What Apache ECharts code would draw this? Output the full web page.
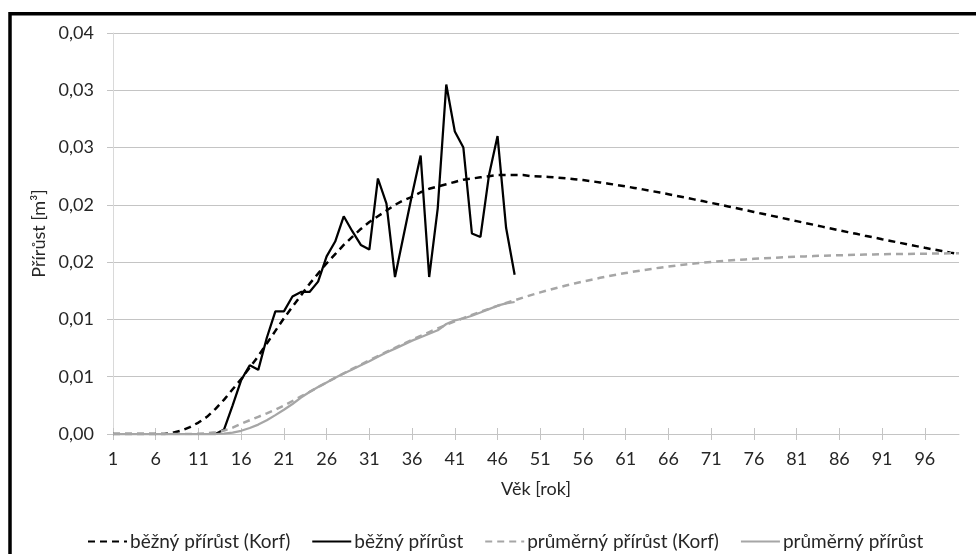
<!DOCTYPE html>
<html>
<head>
<meta charset="utf-8">
<script src="https://cdn.jsdelivr.net/npm/echarts@6/dist/echarts.min.js"></script>
<style>
  html, body { margin: 0; padding: 0; background: #fff; }
  #chart { width: 976px; height: 554px; }
</style>
</head>
<body>
<div id="chart"></div>
<script>
// Stand age in years (category axis)
const ages = [
  1, 2, 3, 4, 5, 6, 7, 8, 9, 10, 11, 12, 13, 14, 15, 16, 17, 18, 19, 20,
  21, 22, 23, 24, 25, 26, 27, 28, 29, 30, 31, 32, 33, 34, 35, 36, 37, 38, 39, 40,
  41, 42, 43, 44, 45, 46, 47, 48, 49, 50, 51, 52, 53, 54, 55, 56, 57, 58, 59, 60,
  61, 62, 63, 64, 65, 66, 67, 68, 69, 70, 71, 72, 73, 74, 75, 76, 77, 78, 79, 80,
  81, 82, 83, 84, 85, 86, 87, 88, 89, 90, 91, 92, 93, 94, 95, 96, 97, 98, 99, 100
];

// Current annual increment, Korf growth model [m3]
const korfCurrent = [
  0, 0, 0, 0, 0, 0, 0, 0.0001, 0.0003, 0.0006,
  0.0010, 0.0015, 0.0022, 0.0030, 0.0039, 0.0048, 0.0058, 0.0068, 0.0079, 0.0090,
  0.0101, 0.0111, 0.0121, 0.0131, 0.0140, 0.0149, 0.0157, 0.0165, 0.0172, 0.0179,
  0.0185, 0.0190, 0.0195, 0.0200, 0.0204, 0.0207, 0.0211, 0.0214, 0.0216, 0.0218,
  0.0220, 0.0222, 0.0223, 0.0224, 0.0225, 0.0226, 0.0226, 0.0226, 0.0226, 0.0225,
  0.02248, 0.02244, 0.02238, 0.02232, 0.02224, 0.02216, 0.02206, 0.02196, 0.02185, 0.02173,
  0.02161, 0.02148, 0.02135, 0.02121, 0.02107, 0.02093, 0.02078, 0.02063, 0.02048, 0.02033,
  0.02017, 0.02002, 0.01986, 0.01970, 0.01954, 0.01938, 0.01922, 0.01906, 0.01890, 0.01874,
  0.01858, 0.01842, 0.01826, 0.01810, 0.01794, 0.01778, 0.01762, 0.01747, 0.01731, 0.01716,
  0.01700, 0.01685, 0.01670, 0.01655, 0.01640, 0.01625, 0.01611, 0.01597, 0.01583, 0.01570
];

// Measured current annual increment [m3], ages 1-48
const current = [
  0, 0, 0, 0, 0, 0, 0, 0, 0, 0,
  0, 0, 0, 0.0004, 0.0025, 0.0047, 0.0060, 0.0056, 0.0084, 0.0107,
  0.0107, 0.0120, 0.0124, 0.0124, 0.0133, 0.0155, 0.0168, 0.0190, 0.0177, 0.0165,
  0.0161, 0.0223, 0.0201, 0.0137, 0.0173, 0.0209, 0.0243, 0.0137, 0.0197, 0.0305,
  0.0264, 0.0250, 0.0175, 0.0172, 0.0226, 0.0260, 0.0180, 0.0139
];

// Mean annual increment, Korf growth model [m3]
const korfMean = [
  0, 0, 0, 0, 0, 0, 0, 0, 0, 0,
  0.00002, 0.00006, 0.00015, 0.00030, 0.00055, 0.00090, 0.00120, 0.00150, 0.00180, 0.00212,
  0.00248, 0.00288, 0.00328, 0.00368, 0.00410, 0.00450, 0.00490, 0.00530, 0.00568, 0.00606,
  0.00643, 0.00680, 0.00716, 0.00752, 0.00788, 0.00823, 0.00857, 0.00890, 0.00922, 0.00953,
  0.00983, 0.01012, 0.01040, 0.01067, 0.01093, 0.01118, 0.01143, 0.01167, 0.01191, 0.01214,
  0.01236, 0.01257, 0.01277, 0.01296, 0.01314, 0.01331, 0.01347, 0.01363, 0.01378, 0.01392,
  0.01405, 0.01418, 0.01430, 0.01441, 0.01452, 0.01462, 0.01471, 0.01480, 0.01488, 0.01495,
  0.01502, 0.01508, 0.01514, 0.01519, 0.01524, 0.01529, 0.01533, 0.01537, 0.01541, 0.01544,
  0.01547, 0.01550, 0.01553, 0.01556, 0.01558, 0.01560, 0.01562, 0.01564, 0.01566, 0.01567,
  0.01569, 0.01570, 0.01571, 0.01572, 0.01573, 0.01574, 0.01575, 0.01576, 0.01577, 0.01578
];

// Measured mean annual increment [m3], ages 1-48
const mean = [
  0, 0, 0, 0, 0, 0, 0, 0, 0, 0,
  0, 0, 0, 0.00003, 0.00012, 0.00028, 0.00052, 0.00082, 0.00120, 0.00165,
  0.00212, 0.00262, 0.00318, 0.00366, 0.00410, 0.00450, 0.00490, 0.00528, 0.00563, 0.00600,
  0.00635, 0.00675, 0.00712, 0.00745, 0.00780, 0.00815, 0.00845, 0.00875, 0.00905, 0.00960,
  0.00992, 0.01008, 0.01032, 0.01060, 0.01090, 0.01120, 0.01140, 0.01152
];

// Y tick labels as printed (two decimals, decimal comma)
const yTickLabels = ['0,00', '0,01', '0,01', '0,02', '0,02', '0,03', '0,03', '0,04'];

const FONT = 'Lato';
const TEXT = '#262626';
const GRID = '#c4c4c4';

const chart = echarts.init(document.getElementById('chart'), null, { renderer: 'canvas' });

chart.setOption({
  animation: false,
  backgroundColor: '#fff',
  textStyle: { fontFamily: FONT },
  graphic: [{
    type: 'rect',
    silent: true,
    z: 100,
    shape: { x: 10, y: 13.7, width: 1000, height: 600 },
    style: { fill: 'none', stroke: '#000', lineWidth: 3.5 }
  }],
  grid: { left: 113, right: 17, top: 33, bottom: 120 },
  legend: {
    left: 82,
    top: 527,
    itemWidth: 39,
    itemHeight: 14,
    itemGap: 21,
    textStyle: { fontFamily: FONT, fontSize: 19, color: TEXT, padding: [0, 0, 0, -2] },
    itemStyle: { opacity: 0 },
    data: ['běžný přírůst (Korf)', 'běžný přírůst', 'průměrný přírůst (Korf)', 'průměrný přírůst']
  },
  xAxis: [{
    type: 'category',
    data: ages,
    boundaryGap: false,
    name: 'Věk [rok]',
    nameLocation: 'middle',
    nameGap: 46,
    nameTextStyle: { fontFamily: FONT, fontSize: 18, color: TEXT },
    axisLine: { lineStyle: { color: GRID, width: 1 } },
    axisTick: { show: true, interval: 4, length: 6, lineStyle: { color: GRID } },
    axisLabel: { interval: 4, margin: 16, fontFamily: FONT, fontSize: 18, color: TEXT },
    splitLine: { show: false }
  }, {
    // upper half of the crossing tick marks
    type: 'category',
    data: ages,
    boundaryGap: false,
    position: 'bottom',
    axisLine: { show: false },
    axisTick: { show: true, inside: true, interval: 4, length: 6, lineStyle: { color: GRID } },
    axisLabel: { show: false },
    splitLine: { show: false }
  }],
  yAxis: {
    type: 'value',
    min: 0,
    max: 0.035,
    interval: 0.005,
    name: 'Přírůst [m³]',
    nameLocation: 'middle',
    nameRotate: 90,
    nameGap: 53,
    nameTextStyle: { fontFamily: FONT, fontSize: 18, color: TEXT },
    axisLine: { show: true, lineStyle: { color: '#d9d9d9', width: 1 } },
    axisTick: { show: true, length: 6, lineStyle: { color: GRID } },
    axisLabel: {
      margin: 19,
      fontFamily: FONT,
      fontSize: 18,
      color: TEXT,
      formatter: (v, i) => yTickLabels[i]
    },
    splitLine: { show: true, lineStyle: { color: GRID, width: 1 } }
  },
  series: [{
    name: 'běžný přírůst (Korf)',
    type: 'line',
    data: korfCurrent,
    symbol: 'none',
    showSymbol: false,
    lineStyle: { color: '#000', width: 2.5, type: [7, 5] },
    itemStyle: { color: '#000' }
  }, {
    name: 'běžný přírůst',
    type: 'line',
    data: current,
    symbol: 'none',
    showSymbol: false,
    lineStyle: { color: '#000', width: 2.25 },
    itemStyle: { color: '#000' }
  }, {
    name: 'průměrný přírůst (Korf)',
    type: 'line',
    data: korfMean,
    symbol: 'none',
    showSymbol: false,
    lineStyle: { color: '#a6a6a6', width: 2.5, type: [7, 5] },
    itemStyle: { color: '#a6a6a6' }
  }, {
    name: 'průměrný přírůst',
    type: 'line',
    data: mean,
    symbol: 'none',
    showSymbol: false,
    lineStyle: { color: '#a6a6a6', width: 2.25 },
    itemStyle: { color: '#a6a6a6' }
  }]
});
</script>
</body>
</html>
